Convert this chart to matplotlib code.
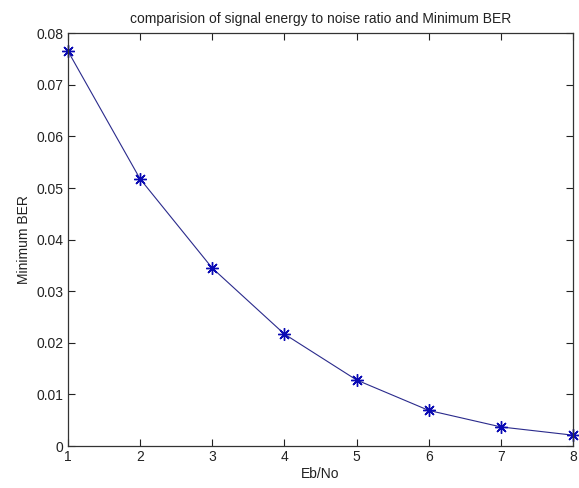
import matplotlib.pyplot as plt

plt.rcParams["font.family"] = ["Liberation Sans", "DejaVu Sans"]

# Eb/No values and the minimum BER
eb_no = [1, 2, 3, 4, 5, 6, 7, 8]
min_ber = [0.0766, 0.0518, 0.0345, 0.0217, 0.0128, 0.0069, 0.0037, 0.0021]
x_ticks = [1, 2, 3, 4, 5, 6, 7, 8]
y_ticks = [0, 0.01, 0.02, 0.03, 0.04, 0.05, 0.06, 0.07, 0.08]
y_tick_labels = ["0", "0.01", "0.02", "0.03", "0.04", "0.05", "0.06", "0.07", "0.08"]

fig = plt.figure(figsize=(5.79, 4.88), dpi=100)
ax = fig.add_axes([0.117, 0.086, 0.873, 0.846])

ax.plot(eb_no, min_ber, color="#2a2a8c", linewidth=0.8)
# matlab style '*' marker: 8 spoke asterisk
ax.plot(eb_no, min_ber, linestyle="none", marker=(8, 2, 0), markersize=9,
        color="#0a0ab4", markeredgewidth=1.0, clip_on=False)

ax.set_xlim(1, 8)
ax.set_ylim(0, 0.08)
ax.set_xticks(x_ticks)
ax.set_yticks(y_ticks)
ax.set_yticklabels(y_tick_labels)
ax.tick_params(direction="in", length=5, width=0.8, top=True, right=True,
               labelsize=10, colors="#222222", pad=3)
for s in ax.spines.values():
    s.set_linewidth(0.9)
    s.set_color("#333333")

ax.set_xlabel("Eb/No", fontsize=10, color="#222222", labelpad=2)
ax.set_ylabel("Minimum BER", fontsize=10, color="#222222", labelpad=4)
ax.set_title("comparision of signal energy to noise ratio and Minimum BER",
             fontsize=10, color="#222222", pad=7)

fig.savefig("out.png", dpi=100)
